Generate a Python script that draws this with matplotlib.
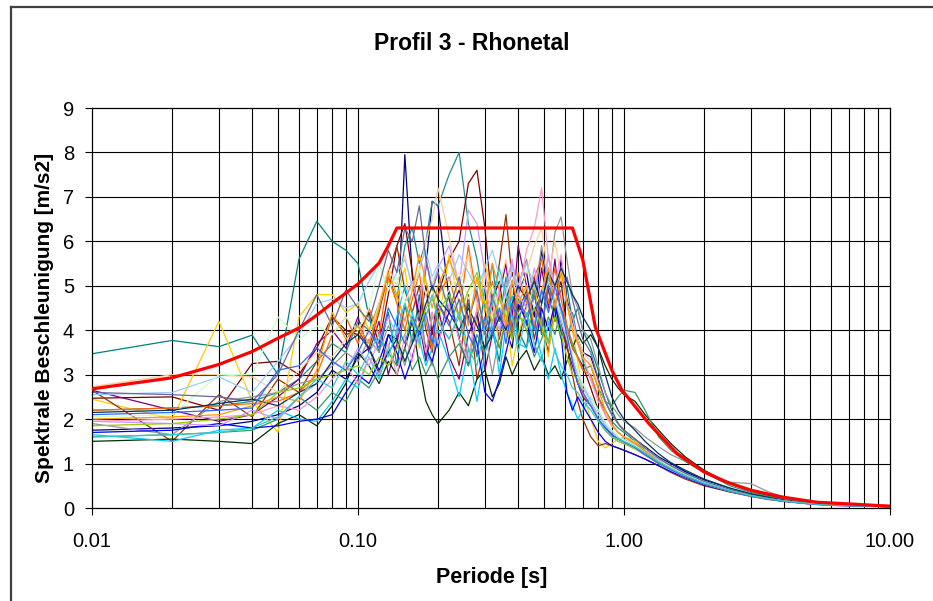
import matplotlib
matplotlib.use("Agg")
import matplotlib.pyplot as plt
from matplotlib.lines import Line2D

plt.rcParams['font.family'] = ['Liberation Sans', 'DejaVu Sans']

# ---------------- data ----------------
periods = [0.01, 0.02, 0.03, 0.04, 0.05, 0.06, 0.07, 0.08, 0.09, 0.10,
           0.11, 0.12, 0.13, 0.14, 0.15, 0.16, 0.17, 0.18, 0.19, 0.20,
           0.22, 0.24, 0.26, 0.28, 0.30, 0.32, 0.34, 0.36, 0.38, 0.40,
           0.43, 0.46, 0.49, 0.52, 0.55, 0.58, 0.61, 0.64, 0.67, 0.70,
           0.75, 0.80, 0.85, 0.90, 0.95, 1.00,
           1.1, 1.2, 1.35, 1.5, 1.7, 2.0, 2.5, 3.0, 3.5, 4.0, 5.0, 6.0, 8.0, 10.0]

teal = [3.47, 3.77, 3.63, 3.89, 3.0, 5.6, 6.45, 6.0, 5.8, 5.5,
        4.3, 3.5, 4.4, 3.2, 4.6, 3.7, 4.8, 3.4, 4.4, 3.6,
        4.9, 3.8, 4.6, 3.4, 5.0, 4.0, 3.3, 4.7, 5.2, 4.0,
        3.6, 4.9, 3.9, 5.3, 4.4, 3.8, 5.0, 4.2, 4.5, 4.0,
        3.6, 3.1, 2.6, 2.2, 1.9, 1.75,
        1.55, 1.35, 1.12, 0.95, 0.8, 0.6, 0.42, 0.3, 0.23, 0.18, 0.11, 0.08, 0.05, 0.03]
navy = [1.75, 1.8, 1.85, 1.95, 2.1, 2.3, 2.6, 3.1, 2.9, 3.4,
        3.6, 3.0, 3.9, 3.8, 7.95, 5.2, 4.3, 5.4, 6.9, 6.8,
        4.7, 3.8, 3.2, 4.4, 3.5, 4.7, 5.1, 4.0, 3.6, 4.8,
        5.3, 4.3, 5.8, 4.9, 4.2, 5.6, 4.7, 4.2, 3.8, 3.5,
        3.4, 2.9, 2.4, 2.1, 1.9, 1.75,
        1.55, 1.38, 1.15, 1.0, 0.82, 0.63, 0.44, 0.31, 0.24, 0.19, 0.12, 0.08, 0.05, 0.04]
teal_2 = [2.2, 2.25, 2.3, 2.4, 2.6, 2.9, 3.3, 3.7, 3.5, 4.2,
          4.0, 4.6, 5.2, 4.7, 5.9, 6.3, 5.5, 6.0, 6.9, 6.8,
          7.5, 8.0, 6.4, 5.6, 4.5, 5.5, 4.2, 5.2, 4.0, 4.9,
          4.1, 5.0, 4.3, 3.7, 4.8, 4.0, 3.6, 4.4, 3.8, 3.3,
          2.9, 2.5, 2.2, 1.95, 1.8, 1.7,
          1.5, 1.3, 1.08, 0.9, 0.75, 0.58, 0.4, 0.29, 0.22, 0.17, 0.11, 0.08, 0.05, 0.03]
dark_red = [2.47, 2.5, 2.2, 3.25, 3.3, 3.0, 3.6, 4.3, 4.0, 3.9,
            4.4, 3.7, 4.8, 5.9, 6.4, 5.3, 4.2, 5.0, 3.9, 4.8,
            5.6, 6.0, 7.3, 7.6, 6.3, 4.5, 3.8, 4.7, 5.3, 3.7,
            4.6, 5.2, 4.1, 3.5, 4.7, 5.1, 4.0, 3.6, 3.4, 3.2,
            2.7, 2.2, 1.85, 1.65, 1.55, 1.5,
            1.38, 1.24, 1.04, 0.88, 0.72, 0.55, 0.38, 0.28, 0.21, 0.16, 0.1, 0.07, 0.045, 0.03]
gold = [2.45, 2.0, 4.2, 2.4, 1.7, 4.3, 4.8, 4.8, 4.4, 4.6,
        4.0, 4.5, 5.1, 4.7, 5.4, 4.2, 3.6, 5.6, 5.0, 4.1,
        5.7, 4.6, 3.3, 4.2, 5.5, 4.8, 3.6, 4.4, 3.2, 3.9,
        4.5, 5.0, 4.1, 3.4, 4.9, 5.4, 4.6, 4.0, 3.3, 2.6,
        2.0, 1.5, 1.35, 1.45, 1.55, 1.6,
        1.5, 1.35, 1.1, 0.92, 0.75, 0.57, 0.4, 0.28, 0.21, 0.16, 0.1, 0.08, 0.06, 0.05]
purple = [2.65, 2.2, 1.95, 2.1, 2.5, 2.9, 3.7, 4.0, 3.6, 4.3,
          3.5, 4.2, 3.0, 3.7, 4.6, 5.1, 4.2, 3.3, 4.0, 4.5,
          3.4, 2.9, 3.9, 4.4, 3.1, 3.9, 4.8, 5.5, 4.3, 5.9,
          5.0, 4.0, 5.4, 4.5, 5.6, 4.2, 3.6, 3.2, 2.8, 2.5,
          2.3, 2.0, 1.8, 1.65, 1.55, 1.5,
          1.4, 1.25, 1.05, 0.9, 0.74, 0.57, 0.39, 0.28, 0.21, 0.16, 0.1, 0.07, 0.045, 0.03]
brown = [2.65, 1.5, 2.55, 2.05, 2.9, 2.6, 3.3, 4.3, 3.9, 4.0,
         3.6, 4.4, 5.3, 5.9, 4.9, 4.4, 5.0, 4.0, 3.5, 4.6,
         4.2, 3.2, 4.8, 2.9, 3.6, 4.6, 5.5, 6.6, 5.1, 4.4,
         4.9, 3.8, 4.6, 5.4, 4.5, 4.2, 3.7, 3.0, 2.4, 2.0,
         1.6, 1.4, 1.45, 1.4, 1.35, 1.3,
         1.2, 1.1, 0.95, 0.8, 0.65, 0.5, 0.36, 0.26, 0.19, 0.15, 0.09, 0.06, 0.04, 0.03]
gray = [1.9, 1.65, 2.4, 2.5, 2.6, 2.8, 2.9, 3.2, 3.5, 3.3,
        3.8, 3.5, 4.1, 3.7, 3.2, 3.9, 4.4, 3.6, 3.2, 4.2,
        3.8, 4.3, 3.3, 4.5, 4.0, 3.0, 3.9, 4.6, 3.8, 5.0,
        5.6, 4.7, 5.9, 5.0, 6.2, 6.55, 5.6, 4.8, 4.5, 4.0,
        3.8, 3.2, 2.6, 2.3, 2.1, 1.95,
        1.8, 1.6, 1.38, 1.2, 1.05, 0.8, 0.58, 0.55, 0.36, 0.25, 0.15, 0.1, 0.07, 0.06]
dark_green = [1.5, 1.55, 1.5, 1.45, 1.9, 2.1, 1.85, 2.3, 2.8, 3.5,
              3.2, 2.8, 3.3, 3.0, 3.6, 4.2, 3.2, 2.4, 2.1, 1.9,
              2.2, 2.6, 2.3, 2.9, 3.1, 2.5, 2.8, 3.4, 3.0, 3.3,
              3.55, 3.1, 3.4, 3.0, 3.2, 2.9, 3.3, 3.6, 3.9, 3.7,
              3.9, 3.6, 3.2, 2.9, 2.7, 2.55,
              2.4, 2.1, 1.75, 1.45, 1.15, 0.85, 0.55, 0.38, 0.28, 0.21, 0.13, 0.09, 0.06, 0.04]
sea_green = [1.6, 1.65, 1.7, 1.75, 2.0, 2.5, 2.2, 2.6, 2.4, 2.9,
             2.7, 3.1, 3.5, 3.2, 3.6, 3.1, 3.4, 3.0, 3.3, 2.9,
             3.4, 3.7, 3.2, 3.9, 3.5, 4.0, 3.6, 4.2, 3.8, 4.4,
             4.0, 3.4, 3.8, 4.3, 3.9, 4.5, 4.1, 3.7, 3.4, 3.1,
             3.2, 2.7, 2.4, 2.3, 2.5, 2.65,
             2.6, 2.2, 1.6, 1.3, 1.05, 0.8, 0.5, 0.35, 0.26, 0.2, 0.12, 0.08, 0.05, 0.04]
sky = [1.65, 1.5, 1.75, 1.8, 2.2, 2.0, 1.95, 2.4, 2.9, 2.7,
       3.4, 2.9, 3.6, 4.3, 5.0, 4.4, 3.8, 3.2, 3.6, 4.0,
       3.3, 2.5, 3.6, 2.4, 3.5, 4.2, 3.0, 4.1, 4.8, 3.7,
       3.6, 4.2, 3.4, 2.9, 3.6, 3.0, 2.6, 2.3, 2.0, 2.2,
       2.5, 2.2, 1.9, 1.75, 1.6, 1.5,
       1.4, 1.28, 1.06, 0.9, 0.76, 0.6, 0.42, 0.3, 0.22, 0.17, 0.1, 0.07, 0.05, 0.03]
blue = [1.7, 1.75, 1.9, 1.8, 1.85, 1.95, 2.0, 2.1, 2.6, 3.0,
        2.8, 3.3, 3.9, 3.5, 2.9, 3.4, 4.0, 3.6, 3.3, 3.8,
        4.4, 4.9, 4.3, 3.7, 2.6, 2.4, 2.9, 3.5, 4.1, 4.6,
        4.2, 3.5, 4.5, 4.0, 4.6, 3.9, 2.6, 2.2, 2.5, 2.3,
        2.0, 1.7, 1.5, 1.4, 1.35, 1.3,
        1.2, 1.1, 0.95, 0.82, 0.68, 0.52, 0.37, 0.27, 0.2, 0.15, 0.1, 0.07, 0.045, 0.03]
orange = [2.2, 2.25, 2.3, 2.35, 2.4, 2.6, 3.0, 3.9, 4.3, 3.7,
          4.5, 3.9, 5.2, 4.6, 4.0, 4.7, 5.3, 4.2, 3.6, 4.8,
          5.2, 4.3, 5.9, 4.7, 4.1, 5.1, 4.2, 4.9, 3.9, 5.3,
          4.6, 5.2, 5.6, 4.6, 5.4, 4.7, 4.1, 3.6, 3.4, 3.1,
          3.0, 2.5, 2.1, 1.85, 1.7, 1.6,
          1.45, 1.28, 1.05, 0.88, 0.72, 0.55, 0.39, 0.28, 0.21, 0.16, 0.1, 0.07, 0.05, 0.03]
tan = [2.73, 3.0, 3.0, 2.95, 2.6, 3.1, 3.5, 3.4, 3.8, 4.1,
       3.9, 4.6, 5.4, 5.0, 5.7, 4.9, 5.3, 6.0, 6.5, 7.2,
       6.1, 5.0, 5.7, 4.5, 5.3, 4.3, 5.0, 5.6, 4.8, 4.7,
       5.3, 5.9, 6.3, 5.2, 6.0, 5.2, 4.6, 4.1, 3.8, 3.5,
       3.3, 2.8, 2.4, 2.1, 1.9, 1.75,
       1.55, 1.35, 1.12, 0.95, 0.78, 0.6, 0.42, 0.3, 0.23, 0.18, 0.11, 0.08, 0.05, 0.04]
pink = [1.95, 2.0, 2.05, 2.1, 2.3, 2.2, 2.5, 2.9, 3.2, 2.8,
        3.4, 3.0, 3.7, 3.0, 3.9, 3.3, 4.2, 3.5, 4.4, 3.7,
        4.6, 3.8, 3.3, 4.5, 5.0, 4.1, 4.9, 3.9, 5.5, 4.8,
        5.8, 6.3, 7.2, 5.6, 5.0, 5.7, 4.6, 4.3, 3.7, 3.4,
        2.9, 2.4, 2.1, 1.85, 1.7, 1.6,
        1.45, 1.28, 1.06, 0.9, 0.75, 0.57, 0.4, 0.29, 0.22, 0.17, 0.1, 0.07, 0.05, 0.03]
lavender = [1.95, 1.9, 1.85, 2.2, 2.0, 2.5, 2.8, 3.3, 3.1, 3.6,
            3.2, 3.8, 4.3, 3.9, 4.6, 5.1, 4.5, 5.6, 5.0, 5.4,
            5.9, 5.0, 6.7, 6.4, 5.3, 4.6, 4.0, 5.0, 5.6, 4.8,
            4.5, 5.4, 4.6, 5.7, 4.8, 4.4, 4.0, 3.3, 3.0, 2.8,
            2.4, 2.0, 1.75, 1.6, 1.5, 1.45,
            1.33, 1.18, 1.0, 0.85, 0.7, 0.54, 0.38, 0.27, 0.2, 0.15, 0.09, 0.06, 0.04, 0.03]
light_blue = [2.55, 2.6, 2.95, 2.6, 3.3, 3.9, 4.6, 4.7, 4.5, 4.6,
              5.1, 5.5, 4.9, 5.3, 5.6, 5.0, 5.4, 5.8, 5.2, 5.5,
              5.1, 5.7, 5.3, 4.9, 5.4, 5.8, 5.2, 4.8, 5.4, 5.0,
              5.5, 5.0, 4.6, 5.1, 4.7, 4.2, 3.8, 3.4, 3.0, 2.7,
              2.4, 2.1, 1.85, 1.7, 1.6, 1.55,
              1.42, 1.3, 1.1, 0.95, 0.78, 0.6, 0.42, 0.3, 0.23, 0.17, 0.11, 0.08, 0.05, 0.03]
light_green = [2.05, 2.1, 3.0, 3.0, 4.3, 3.8, 4.1, 3.9, 4.3, 4.0,
               4.5, 5.5, 4.9, 5.2, 4.6, 5.0, 5.4, 4.8, 5.2, 4.5,
               4.9, 5.3, 4.7, 5.1, 4.6, 5.0, 4.4, 4.8, 5.2, 4.6,
               5.0, 4.5, 4.9, 4.4, 4.8, 4.3, 3.9, 3.5, 3.1, 2.8,
               2.5, 2.2, 1.9, 1.75, 1.62, 1.52,
               1.4, 1.26, 1.06, 0.92, 0.76, 0.58, 0.41, 0.29, 0.22, 0.17, 0.1, 0.07, 0.05, 0.03]
blue_gray = [2.6, 2.55, 2.5, 2.4, 3.0, 4.0, 4.8, 4.1, 4.9, 4.5,
             4.2, 5.0, 5.8, 5.3, 6.3, 6.0, 6.8, 5.6, 4.9, 5.3,
             4.4, 5.2, 4.2, 4.9, 3.9, 4.8, 4.2, 4.6, 3.8, 4.7,
             4.3, 4.8, 4.0, 5.0, 4.6, 4.9, 5.2, 4.7, 4.2, 3.8,
             3.5, 2.9, 2.4, 2.1, 1.9, 1.75,
             1.55, 1.35, 1.12, 0.95, 0.78, 0.6, 0.42, 0.3, 0.23, 0.17, 0.11, 0.08, 0.05, 0.03]
dark_teal = [2.15, 2.2, 2.35, 2.45, 2.3, 2.6, 2.8, 3.3, 3.7, 3.9,
             3.6, 3.1, 3.5, 3.8, 3.3, 3.7, 4.1, 4.6, 5.0, 4.7,
             4.4, 4.0, 4.5, 4.1, 3.6, 3.9, 4.3, 4.0, 4.6, 5.0,
             4.7, 5.1, 4.6, 5.3, 5.0, 5.4, 5.1, 4.8, 4.6, 4.3,
             4.0, 3.6, 3.0, 2.5, 2.2, 2.0,
             1.75, 1.5, 1.22, 1.02, 0.85, 0.65, 0.45, 0.32, 0.24, 0.18, 0.11, 0.08, 0.05, 0.04]
lime = [1.85, 1.9, 2.0, 2.1, 2.6, 2.7, 2.9, 3.0, 3.1, 3.2,
        3.0, 3.4, 3.2, 3.6, 3.9, 4.3, 4.0, 4.5, 4.7, 4.4,
        4.8, 4.3, 4.9, 5.3, 4.6, 4.2, 4.7, 4.3, 3.8, 4.4,
        4.0, 4.5, 4.1, 3.7, 4.3, 3.9, 3.4, 3.0, 2.9, 2.6,
        2.3, 2.0, 1.75, 1.6, 1.5, 1.45,
        1.33, 1.2, 1.0, 0.86, 0.7, 0.54, 0.38, 0.27, 0.2, 0.16, 0.1, 0.07, 0.045, 0.03]
light_orange = [2.0, 2.05, 2.1, 2.3, 2.5, 2.4, 3.1, 4.4, 3.8, 4.1,
                3.7, 4.5, 5.3, 4.8, 4.2, 4.9, 5.7, 5.1, 4.5, 5.0,
                5.6, 5.0, 4.1, 5.2, 4.4, 5.5, 4.9, 4.1, 5.1, 4.6,
                5.0, 4.1, 4.9, 5.4, 4.5, 5.3, 4.6, 4.0, 3.7, 3.4,
                3.2, 2.7, 2.2, 1.9, 1.7, 1.6,
                1.45, 1.28, 1.05, 0.88, 0.72, 0.55, 0.38, 0.28, 0.21, 0.16, 0.1, 0.07, 0.05, 0.03]
royal_blue = [2.1, 2.15, 2.2, 2.25, 3.1, 3.2, 3.6, 3.3, 3.1, 3.5,
              4.0, 3.6, 4.5, 4.1, 3.7, 4.3, 3.9, 4.4, 3.7, 4.6,
              4.1, 4.7, 3.9, 3.5, 4.3, 3.9, 4.5, 3.7, 4.6, 4.2,
              4.8, 4.0, 4.9, 4.4, 5.0, 4.5, 3.9, 3.3, 2.8, 2.6,
              2.3, 2.0, 1.8, 1.65, 1.55, 1.48,
              1.36, 1.2, 1.0, 0.86, 0.7, 0.54, 0.38, 0.27, 0.2, 0.15, 0.09, 0.06, 0.04, 0.03]
aqua = [1.6, 1.65, 1.7, 1.8, 2.05, 2.5, 2.9, 2.7, 3.3, 3.0,
        3.5, 3.9, 3.4, 4.0, 4.6, 4.2, 3.7, 4.3, 4.8, 4.2,
        3.8, 4.4, 3.6, 3.2, 4.1, 4.6, 5.4, 4.8, 4.3, 3.5,
        4.4, 3.7, 3.3, 4.2, 3.5, 3.2, 3.0, 2.7, 2.6, 2.4,
        2.2, 1.95, 1.75, 1.6, 1.55, 1.5,
        1.38, 1.24, 1.04, 0.89, 0.73, 0.56, 0.39, 0.28, 0.21, 0.16, 0.1, 0.07, 0.045, 0.03]

# design spectrum (red)
design_periods = [0.01, 0.02, 0.03, 0.04, 0.05, 0.06, 0.07, 0.08, 0.10, 0.12, 0.13, 0.14,
                  0.64, 0.70, 0.78, 0.90, 0.98, 1.24, 1.58, 2.0, 2.44, 3.0, 3.9, 5.3, 7.1, 10.0]
design_values = [2.68, 2.93, 3.23, 3.52, 3.82, 4.05, 4.34, 4.61, 5.04, 5.51, 5.9, 6.3,
                 6.3, 5.58, 4.07, 3.1, 2.66, 1.9, 1.23, 0.81, 0.58, 0.40, 0.25, 0.13, 0.09, 0.04]

series = [
    (teal, "#008080"), (navy, "#000080"), (teal_2, "#1F8F8F"), (dark_red, "#800000"),
    (gold, "#FFCC00"), (purple, "#800080"), (brown, "#993300"), (gray, "#969696"),
    (dark_green, "#003300"), (sea_green, "#339966"), (sky, "#00CCFF"), (blue, "#0000FF"),
    (orange, "#FF6600"), (tan, "#FFCC99"), (pink, "#FF99CC"), (lavender, "#CC99FF"),
    (light_blue, "#99CCFF"), (light_green, "#CCFFCC"), (blue_gray, "#666699"),
    (dark_teal, "#003366"), (lime, "#99CC00"), (light_orange, "#FF9900"),
    (royal_blue, "#3366FF"), (aqua, "#33CCCC"),
]

x_tick_values = [0.01, 0.1, 1.0, 10.0]
x_tick_labels = ["0.01", "0.10", "1.00", "10.00"]
y_tick_values = list(range(0, 10))

# ---------------- figure ----------------
W, H = 933, 601
fig = plt.figure(figsize=(W / 100, H / 100), dpi=100)
fig.patch.set_facecolor("white")

# chart-area border (cropped at right/bottom)
fig.add_artist(Line2D([11 / W, 11 / W], [0, 1 - 7 / H], color="#404040", lw=1.6,
                      transform=fig.transFigure))
fig.add_artist(Line2D([11 / W, 1], [1 - 7 / H, 1 - 7 / H], color="#404040", lw=1.6,
                      transform=fig.transFigure))

left, right, bottom, top = 92 / W, 890 / W, 1 - 508 / H, 1 - 108 / H
ax = fig.add_axes([left, bottom, right - left, top - bottom])
ax.set_xscale("log")
ax.set_xlim(0.01, 10)
ax.set_ylim(0, 9)

# grid
for d in (0.01, 0.1, 1.0):
    for m in range(1, 10):
        v = d * m
        if 0.01 < v < 10:
            ax.axvline(v, color="black", lw=0.8, zorder=1)
for yv in range(1, 9):
    ax.axhline(yv, color="black", lw=0.8, zorder=1)

for vals, col in series:
    ax.plot(periods, vals, color=col, lw=0.9, zorder=2)

ax.plot(design_periods, design_values, color="#FF0000", lw=2.3, zorder=3,
        solid_joinstyle="round")

ax.set_xticks(x_tick_values)
ax.set_xticklabels(x_tick_labels)
ax.xaxis.set_minor_locator(matplotlib.ticker.NullLocator())
ax.set_yticks(y_tick_values)
ax.tick_params(axis="both", which="major", labelsize=14.5, length=5, width=0.8,
               direction="out", colors="black")
ax.tick_params(axis="x", pad=12)
ax.tick_params(axis="y", pad=8)
for s in ax.spines.values():
    s.set_color("black")
    s.set_linewidth(0.9)

fig.text(472 / W, 1 - 44 / H, "Profil 3 - Rhonetal", ha="center", va="center",
         fontsize=16.5, fontweight="bold")
fig.text(492 / W, 1 - 577 / H, "Periode [s]", ha="center", va="center",
         fontsize=15.5, fontweight="bold")
fig.text(45 / W, 1 - 318 / H, "Spektrale Beschleunigung [m/s2]", ha="center",
         va="center", rotation=90, fontsize=15, fontweight="bold")

fig.savefig("out.png", dpi=100)
